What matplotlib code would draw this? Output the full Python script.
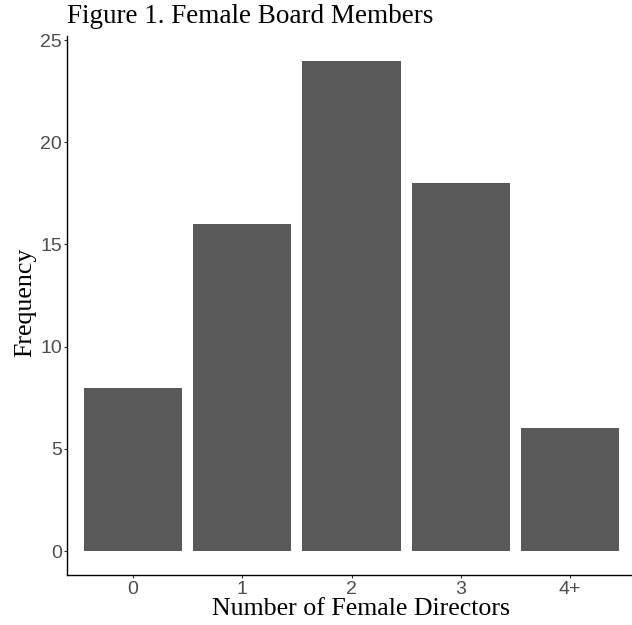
import numpy as np
import matplotlib.pyplot as plt

categories = ["0", "1", "2", "3", "4+"]
counts = [8, 16, 24, 18, 6]
yticks = [0, 5, 10, 15, 20, 25]

fig = plt.figure(figsize=(6.32, 6.25), dpi=100)
ax = fig.add_axes([0.1068, 0.08, 0.8988, 0.8624])

x = np.arange(len(categories))
ax.bar(x, counts, width=0.9, color="#595959")

ax.set_xlim(-0.6, 4.6)
ax.set_ylim(-1.17, 25.2)
ax.set_xticks(x)
ax.set_xticklabels(categories)
ax.set_yticks(yticks)

for side in ["top", "right"]:
    ax.spines[side].set_visible(False)
for side in ["left", "bottom"]:
    ax.spines[side].set_linewidth(1.0)
    ax.spines[side].set_color("black")

ax.tick_params(axis="both", length=2.5, width=0.8, color="#333333",
               labelcolor="#4D4D4D", labelsize=14, pad=1.5)
for lab in ax.get_xticklabels() + ax.get_yticklabels():
    lab.set_family("Liberation Sans")

serif = "Liberation Serif"
ax.set_xlabel("Number of Female Directors", family=serif, fontsize=18.6)
ax.xaxis.set_label_coords(0.517, -0.043, transform=ax.transAxes)
ax.xaxis.label.set_va("top")
ax.set_ylabel("Frequency", family=serif, fontsize=18.6)
ax.yaxis.set_label_coords(-0.0555, 0.505)

fig.text(0.1068, 0.993, "Figure 1. Female Board Members", family=serif,
         fontsize=19.5, ha="left", va="top")

fig.savefig("out.png", dpi=100)
